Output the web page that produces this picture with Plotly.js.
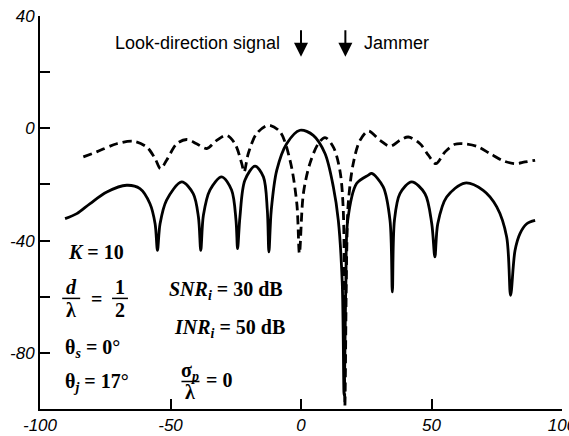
<!DOCTYPE html>
<html>
<head>
<meta charset="utf-8">
<script src="https://cdn.plot.ly/plotly-3.0.1.min.js"></script>
<style>html,body{margin:0;padding:0;background:#fff;}#chart{width:569px;height:436px;}</style>
</head>
<body>
<div id="chart"></div>
<script>
// Adapted pattern (solid): angle in degrees, gain in dB
const solidDeg = [-90.4,-85.9,-80.8,-74.4,-66.8,-61.7,-57.9,-55.9,-55.0,-54.0,-51.5,-45.7,-41.3,-39.3,-38.4,-37.4,-34.9,-30.4,-26.6,-24.9,-24.3,-23.4,-21.5,-17.6,-14.4,-12.9,-12.3,-11.4,-9.3,-5.5,-0.4,4.7,9.2,12.4,14.3,15.8,16.5,17.2,17.9,21.3,25.8,27.1,31.5,34.1,35.0,35.8,37.9,42.4,47.5,50.1,51.3,52.4,55.8,62.8,69.8,75.0,78.8,80.3,82.0,83.9,86.5,89.7];
const solidDb  = [-32.2,-30.4,-26.8,-22.7,-20.3,-21.5,-26.8,-34.0,-43.5,-34.0,-25.6,-19.1,-23.3,-31.6,-43.5,-31.0,-22.0,-17.3,-22.0,-32.8,-42.9,-31.6,-18.5,-13.5,-17.3,-29.2,-44.0,-29.2,-15.0,-5.5,-0.7,-2.5,-9.0,-20.9,-32.8,-55.0,-95.0,-55.0,-32.8,-19.7,-16.7,-16.1,-20.9,-32.8,-58.3,-32.8,-23.3,-19.1,-23.3,-34.0,-45.8,-34.0,-24.5,-19.5,-22.1,-28.0,-38.7,-59.5,-43.5,-37.5,-34.0,-32.8];
// Conventional pattern (dashed)
const dashDeg = [-83.4,-78.3,-70.6,-64.2,-59.1,-55.9,-53.8,-51.5,-47.6,-43.8,-40.0,-36.1,-32.3,-28.5,-25.3,-22.7,-21.8,-20.2,-17.0,-12.5,-8.0,-4.2,-1.6,-0.6,0.9,3.4,6.6,9.2,12.4,14.9,16.2,16.8,17.5,18.1,20.0,22.6,25.8,30.3,34.1,37.9,41.1,45.6,48.8,51.7,55.2,59.0,62.2,67.3,72.4,77.5,82.0,85.8,89.7];
const dashDb  = [-10.2,-8.4,-5.5,-4.6,-6.7,-10.8,-14.4,-11.4,-5.5,-4.0,-5.5,-7.2,-4.3,-2.5,-5.5,-12.6,-15.6,-9.0,-1.9,1.1,-1.3,-11.4,-26.8,-44.6,-23.3,-12.6,-5.5,-3.3,-6.7,-15.0,-29.2,-99.0,-45.0,-26.8,-12.6,-4.3,-1.0,-4.3,-6.4,-4.3,-3.1,-5.5,-9.6,-12.6,-8.4,-5.7,-5.5,-6.4,-9.0,-11.6,-12.6,-12.0,-11.4];
// Axis ticks
const xTickVals = [-100,-50,0,50,100];
const xTickText = ['-100','-50','0','50','100'];
const yTickVals = [40,0,-40,-80];
const yTickText = ['40','0','-40','-80'];

const traces = [
  {x: dashDeg, y: dashDb, mode:'lines', line:{color:'#000', width:2.8, dash:'9px,5px', shape:'spline', smoothing:0.9}, hoverinfo:'skip'},
  {x: solidDeg, y: solidDb, mode:'lines', line:{color:'#000', width:2.8, shape:'spline', smoothing:0.9}, hoverinfo:'skip'}
];

const serif = {family:'Liberation Serif, Times New Roman, serif', size:20, color:'#000', weight:'bold'};
const sans = {family:'Liberation Sans, Arial, sans-serif', size:18, color:'#000'};
function ann(x, y, text, xanchor, font){
  return {x:x, y:y, xref:'x', yref:'y', text:text, showarrow:false, xanchor:xanchor||'left', yanchor:'middle', font:font||serif};
}
const annotations = [
  ann(-7.3, 30.3, 'Look-direction signal', 'right', sans),
  ann(23.4, 30.3, 'Jammer', 'left', sans),
  {x:0, y:25.5, xref:'x', yref:'y', text:'', showarrow:true, ax:0, ay:-28, arrowhead:2, arrowsize:1.4, arrowwidth:2, arrowcolor:'#000'},
  {x:17, y:25.5, xref:'x', yref:'y', text:'', showarrow:true, ax:0, ay:-28, arrowhead:2, arrowsize:1.4, arrowwidth:2, arrowcolor:'#000'},
  ann(-90.2, -44.2, '<i>K</i> = 10'),
  ann(-88.1, -56.6, '<i>d</i>', 'center'),
  ann(-88.1, -64.8, 'λ', 'center'),
  ann(-78.2, -60.8, '=', 'center'),
  ann(-69.3, -56.6, '1', 'center'),
  ann(-69.3, -64.8, '2', 'center'),
  ann(-91.0, -78.4, 'θ<sub><i>s</i></sub> = 0°'),
  ann(-91.0, -90.5, 'θ<sub><i>j</i></sub> = 17°'),
  ann(-51.5, -57.7, '<i>SNR<sub>i</sub></i> = 30 dB'),
  ann(-49.5, -71.3, '<i>INR<sub>i</sub></i> = 50 dB'),
  ann(-42.5, -86.7, 'σ<sub><i>p</i></sub>', 'center'),
  ann(-42.5, -94.0, 'λ', 'center'),
  ann(-37.0, -89.8, '= 0')
];
const shapes = [
  {type:'line', xref:'x', yref:'y', x0:-91.5, x1:-84.6, y0:-60.6, y1:-60.6, line:{color:'#000', width:1.5}},
  {type:'line', xref:'x', yref:'y', x0:-72.4, x1:-66.3, y0:-60.6, y1:-60.6, line:{color:'#000', width:1.5}},
  {type:'line', xref:'x', yref:'y', x0:-45.8, x1:-38.9, y0:-90.2, y1:-90.2, line:{color:'#000', width:1.5}}
];
const tickFont = {family:'Liberation Sans, Arial, sans-serif', size:17, color:'#000', style:'italic'};
const minorTicks = {ticks:'inside', ticklen:10, tickwidth:2, tickcolor:'#000', showgrid:false};
const layout = {
  width:569, height:436,
  margin:{l:40, r:7, t:16, b:27},
  paper_bgcolor:'#fff', plot_bgcolor:'#fff',
  showlegend:false,
  xaxis:{range:[-100,100], tickvals:xTickVals, ticktext:xTickText, ticks:'inside', ticklen:10, tickwidth:2, tickcolor:'#000',
         showline:true, linewidth:2, linecolor:'#000', showgrid:false, zeroline:false, tickfont:tickFont, fixedrange:true,
         ticklabeloverflow:'allow'},
  yaxis:{range:[-100,40], tickvals:yTickVals, ticktext:yTickText, ticks:'inside', ticklen:10, tickwidth:2, tickcolor:'#000',
         showline:true, linewidth:2, linecolor:'#000', showgrid:false, zeroline:false, tickfont:tickFont, fixedrange:true,
         minor:Object.assign({tickvals:[20,-20,-60]}, minorTicks), ticklabeloverflow:'allow'},
  annotations:annotations,
  shapes:shapes
};
Plotly.newPlot('chart', traces, layout, {staticPlot:true, displayModeBar:false});
</script>
</body>
</html>
